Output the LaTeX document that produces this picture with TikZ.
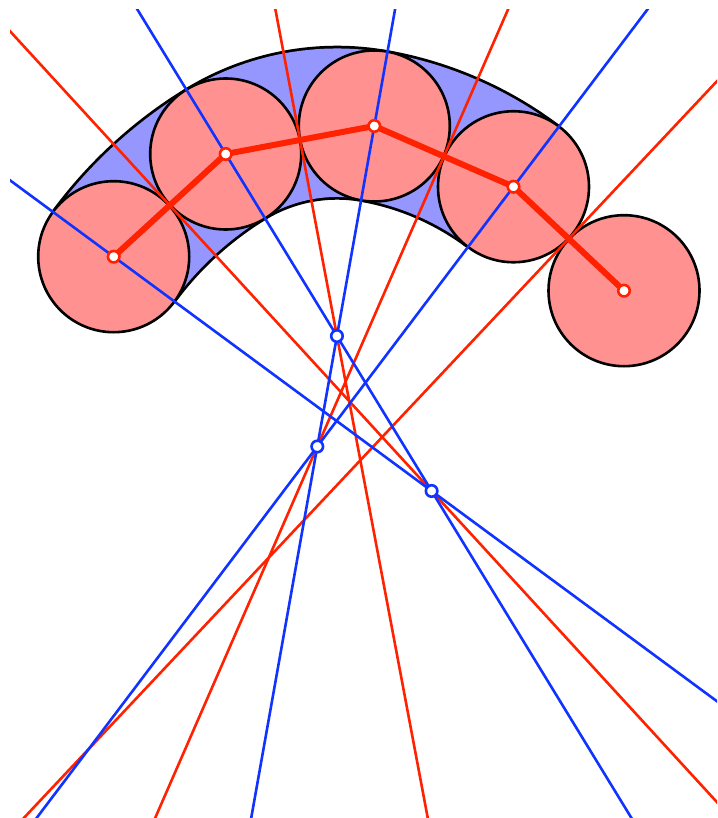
\documentclass[tikz,border=0pt]{standalone}
\usepackage{xcolor}
\usepackage{tikz}
\usetikzlibrary{calc}

\definecolor{bandblue}{RGB}{150,150,255}
\definecolor{discred}{RGB}{255,145,145}
\definecolor{linered}{RGB}{255,34,0}
\definecolor{lineblue}{RGB}{17,51,255}

\begin{document}
\begin{tikzpicture}[
  x=1pt,y=1pt,
  disc/.style={draw=black,fill=discred,line width=2.6pt},
  bisector/.style={draw=linered,line width=2.6pt},
  normal/.style={draw=lineblue,line width=2.6pt},
  chain/.style={draw=linered,line width=6pt,line join=round},
  cdot/.style={circle,draw=linered,fill=white,line width=2.6pt,minimum size=11.5pt,inner sep=0pt},
  odot/.style={circle,draw=lineblue,fill=white,line width=2.6pt,minimum size=11.5pt,inner sep=0pt}
]
\useasboundingbox (0,0) rectangle (717,-818);

% centres of the discs
\coordinate (C1) at (113.7,-256.7);
\coordinate (C2) at (225.7,-154);
\coordinate (C3) at (374.3,-126);
\coordinate (C4) at (513.5,-186.75);
\coordinate (C5) at (624,-290.7);

% mid points and perpendicular bisectors
\foreach \a/\b in {1/2,2/3,3/4,4/5}{
  \coordinate (M\a) at ($(C\a)!0.5!(C\b)$);
  \coordinate (B\a) at ($(M\a)!1!90:(C\b)$);
}

% arc centres: middle one first, then along the normals
\coordinate (O2) at ($(M2)!-199.5pt!(B2)$);
\coordinate (O1) at (intersection of C2--O2 and M1--B1);
\coordinate (O3) at (intersection of C3--O2 and M3--B3);

% band
\foreach \w/\c in {154pt/black,148.5pt/bandblue}{
  \draw[line width=\w,draw=\c]
    let \p1=($(C1)-(O1)$), \p2=($(C2)-(O1)$),
        \n1={scalar(atan2(\y1,\x1))}, \n2={scalar(atan2(\y2,\x2))}, \n3={veclen(\x1,\y1)}
    in (C1) arc[start angle=\n1, end angle=\n2, radius=\n3]
    let \p3=($(C2)-(O2)$), \p4=($(C3)-(O2)$),
        \n4={scalar(atan2(\y3,\x3))}, \n5={scalar(atan2(\y4,\x4))}, \n6={veclen(\x3,\y3)}
    in arc[start angle=\n4, end angle=\n5, radius=\n6]
    let \p5=($(C3)-(O3)$), \p6=($(C4)-(O3)$),
        \n7={scalar(atan2(\y5,\x5))}, \n8={scalar(atan2(\y6,\x6))}, \n9={veclen(\x5,\y5)}
    in arc[start angle=\n7, end angle=\n8, radius=\n9];
}

% discs
\foreach \i in {1,...,5}
  \draw[disc] (C\i) circle[radius=75.5];

% construction lines
\begin{scope}
  \clip (10,-10) rectangle (717,-818);
  \foreach \a in {1,...,4}
    \draw[bisector] ($(M\a)!-20!(B\a)$) -- ($(M\a)!20!(B\a)$);
  \draw[normal] ($(C1)!-5!(O1)$) -- ($(C1)!5!(O1)$);
  \draw[normal] ($(C2)!-5!(O1)$) -- ($(C2)!5!(O1)$);
  \draw[normal] ($(C3)!-5!(O2)$) -- ($(C3)!5!(O2)$);
  \draw[normal] ($(C4)!-5!(O3)$) -- ($(C4)!5!(O3)$);
\end{scope}

% chain of centres
\draw[chain] (C1) -- (C2) -- (C3) -- (C4) -- (C5);

\foreach \i in {1,...,5}
  \node[cdot] (c\i) at (C\i) {};
\foreach \i in {1,2,3}
  \node[odot] (o\i) at (O\i) {};

\end{tikzpicture}
\end{document}
